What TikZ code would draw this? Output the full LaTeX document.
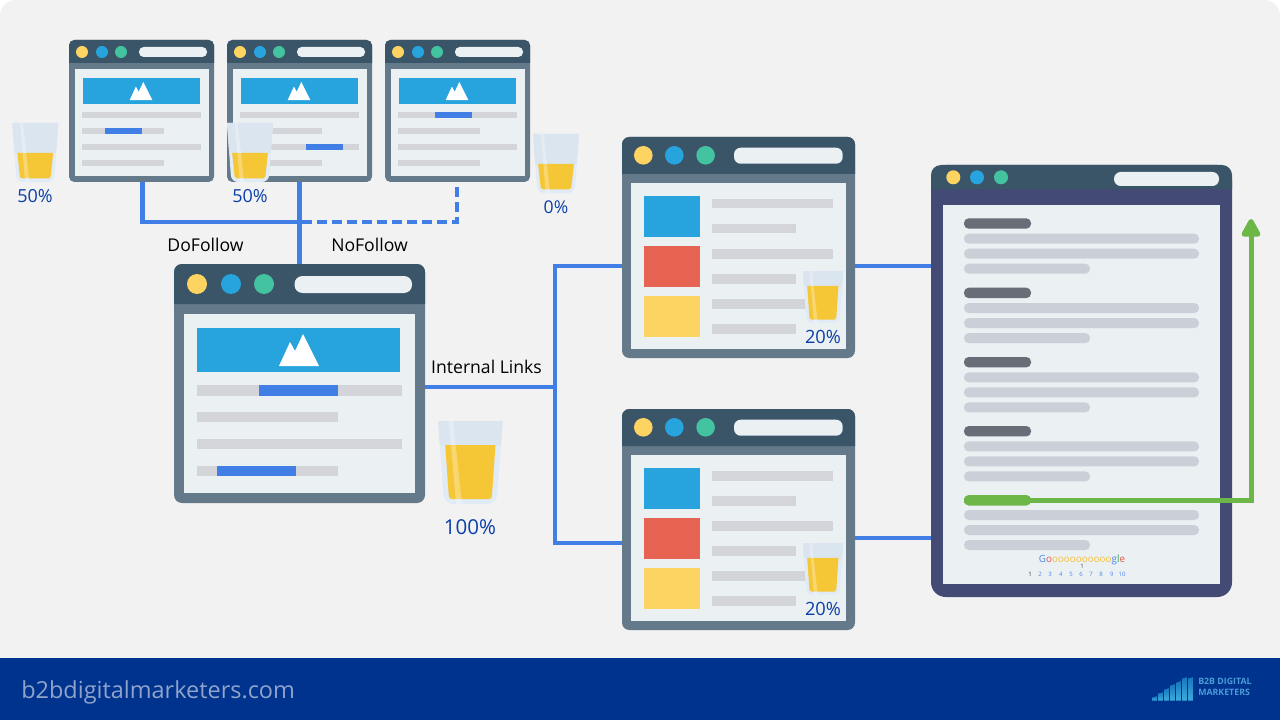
\documentclass[tikz,border=0pt]{standalone}
\usepackage{fontspec}
\setmainfont{Open Sans}
\usetikzlibrary{arrows.meta}

\definecolor{bggray}{HTML}{F2F2F2}
\definecolor{footblue}{HTML}{00338D}
\definecolor{footgray}{HTML}{8FA3CB}
\definecolor{framegray}{HTML}{64798A}
\definecolor{barslate}{HTML}{3B5568}
\definecolor{pagewhite}{HTML}{EBF0F3}
\definecolor{linegray}{HTML}{D4D5DA}
\definecolor{imgblue}{HTML}{27A3DD}
\definecolor{dotyellow}{HTML}{FDD361}
\definecolor{dotgreen}{HTML}{43C3A0}
\definecolor{tomato}{HTML}{E86452}
\definecolor{linkblue}{HTML}{417EE6}
\definecolor{pctblue}{HTML}{0B3FA8}
\definecolor{docnavy}{HTML}{434B75}
\definecolor{doclines}{HTML}{CBCFD8}
\definecolor{dochead}{HTML}{686D78}
\definecolor{rankgreen}{HTML}{6DB748}
\definecolor{glassblue}{HTML}{DBE5EF}
\definecolor{glassrim}{HTML}{E0EBF5}
\definecolor{juice}{HTML}{F5C635}
\definecolor{gblue}{HTML}{4D86EE}
\definecolor{gred}{HTML}{E2574C}
\definecolor{gyellow}{HTML}{F7BF3B}
\definecolor{ggreen}{HTML}{3FA45B}
\definecolor{logotext}{HTML}{4A9CD8}

\def\pxu{0.75pt}

\tikzset{
	winframe/.style={rectangle,fill=framegray,inner sep=0pt,outer sep=0pt},
	linkline/.style={linkblue,line width=3.6pt},
	pctlabel/.style={text=pctblue,inner sep=0pt},
	linklabel/.style={text=black,inner sep=0pt,font=\fontsize{13.2}{15}\selectfont},
}

\newcommand{\mountain}[2]{%
	\fill[white,shift={(#1,#2)},scale=0.57] (-20,32) -- (-9,8) -- (-4,17) -- (4,0) -- (20,32) -- cycle;
}

\newcommand{\smallpage}[4]{%
	\begin{scope}[shift={(#2,40)}]
		\node[winframe,rounded corners=4pt,minimum width=145*\pxu,minimum height=142*\pxu] (#1) at (72.5,71) {};
		\fill[barslate,rounded corners=4pt] (0,23) -- (0,0) -- (145,0) [sharp corners] -- (145,23) -- cycle;
		\fill[pagewhite] (6,29) rectangle (140,136);
		\fill[dotyellow] (13,12) circle (6);
		\fill[imgblue] (33,12) circle (6);
		\fill[dotgreen] (52,12) circle (6);
		\fill[pagewhite,rounded corners=3.5pt] (70,7) rectangle (138,17);
		\fill[imgblue] (13.5,38) rectangle (131,64);
		\mountain{72}{42}
		\fill[linegray] (13,72) rectangle (132,78);
		\fill[linegray] (13,88) rectangle (95,94);
		\fill[linegray] (13,104) rectangle (132,110);
		\fill[linegray] (13,120) rectangle (95,126);
		\fill[linkblue] (#3,#4) rectangle ++(37,6);
	\end{scope}
}

\newcommand{\midpage}[2]{%
	\begin{scope}[shift={(622,#2)}]
		\node[winframe,rounded corners=5.5pt,minimum width=233*\pxu,minimum height=221*\pxu] (#1) at (116.5,110.5) {};
		\fill[barslate,rounded corners=5.5pt] (0,37) -- (0,0) -- (233,0) [sharp corners] -- (233,37) -- cycle;
		\fill[pagewhite] (9,46) rectangle (224,212);
		\fill[dotyellow] (21.3,18.3) circle (9.3);
		\fill[imgblue] (52.3,18.3) circle (9.3);
		\fill[dotgreen] (83.6,18.3) circle (9.3);
		\fill[pagewhite,rounded corners=5pt] (112,10.7) rectangle (220.7,26.7);
		\fill[imgblue] (21.7,59) rectangle (78,99.7);
		\fill[tomato] (21.7,109) rectangle (78,149.7);
		\fill[dotyellow] (21.7,159) rectangle (78,200);
		\foreach \ly in {62,112,162}
			\fill[linegray] (90.3,\ly) rectangle (211.3,\ly+9.5);
		\foreach \ly in {87,137,187}
			\fill[linegray] (90.3,\ly) rectangle (173.7,\ly+9.5);
	\end{scope}
}

\newcommand{\docblock}[1]{%
	\fill[dochead,rounded corners=3.5pt] (964,#1) rectangle (1031,#1+10.4);
	\fill[doclines,rounded corners=3.5pt] (964,#1+15.4) rectangle (1199,#1+25.4);
	\fill[doclines,rounded corners=3.5pt] (964,#1+30.4) rectangle (1199,#1+40.4);
	\fill[doclines,rounded corners=3.5pt] (964,#1+45.4) rectangle (1090,#1+55.4);
}

\newcommand{\juiceglass}[4]{%
	\begin{scope}[shift={(#1,#2)},scale=#3]
		\pgfmathsetmacro{\glassL}{0.0735*#4}
		\pgfmathsetmacro{\glassR}{64.7-\glassL}
		\pgfmathsetmacro{\juiceR}{64.7-7.2}
		\fill[glassrim] (0,0) -- (64.7,0) [rounded corners={#3*7pt}] -- (58.6,83) -- (6.1,83) [sharp corners] -- cycle;
		\fill[glassblue] (0,0) -- (64.7,0) -- (\glassR,#4) -- (\glassL,#4) -- cycle;
		\fill[juice] (7.2,#4) -- (\juiceR,#4) [rounded corners={#3*2pt}] -- (53.7,78) -- (11,78) [sharp corners] -- cycle;
		\fill[white,opacity=0.3] (11,0) -- (15,0) -- (24,83) -- (18,83) -- cycle;
	\end{scope}
}

\begin{document}
\begin{tikzpicture}[x=\pxu,y=-\pxu]
	\useasboundingbox (0,0) rectangle (1280,720);
	\fill[white] (0,0) rectangle (1280,720);
	\fill[bggray,rounded corners=12pt] (0,658) -- (0,0) -- (1280,0) [sharp corners] -- (1280,658) -- cycle;
	\fill[footblue] (0,658) rectangle (1280,720);

	\smallpage{pageA}{69}{36}{88}
	\smallpage{pageB}{227}{79}{104}
	\smallpage{pageC}{385}{50}{72}

	\begin{scope}[shift={(174,264)}]
		\node[winframe,rounded corners=6pt,minimum width=251*\pxu,minimum height=239*\pxu] (mainPage) at (125.5,119.5) {};
		\fill[barslate,rounded corners=6pt] (0,40) -- (0,0) -- (251,0) [sharp corners] -- (251,40) -- cycle;
		\fill[pagewhite] (10,50) rectangle (241,229);
		\fill[dotyellow] (23,20) circle (10);
		\fill[imgblue] (57,20) circle (10);
		\fill[dotgreen] (90,20) circle (10);
		\fill[pagewhite,rounded corners=6pt] (120.5,12) rectangle (238,29);
		\fill[imgblue] (23,64) rectangle (226,108);
		\fill[white] (105,102) -- (116,78) -- (121,87) -- (129,70) -- (145,102) -- cycle;
		\fill[linegray] (23,121) rectangle (228,131.5);
		\fill[linegray] (23,148) rectangle (164,158);
		\fill[linegray] (23,175) rectangle (228,185);
		\fill[linegray] (23,202) rectangle (164,212);
		\fill[linkblue] (85,121) rectangle (164,131.5);
		\fill[linkblue] (43,202) rectangle (122,212);
	\end{scope}

	\midpage{pageD}{137}
	\midpage{pageE}{409}

	\node[winframe,fill=docnavy,rounded corners=11pt,minimum width=301*\pxu,minimum height=432*\pxu] (docPage) at (1081.5,381) {};
	\fill[barslate,rounded corners=7.5pt] (931,189.3) -- (931,165) -- (1232,165) [sharp corners] -- (1232,189.3) -- cycle;
	\fill[docnavy] (931,189.3) rectangle (1232,205);
	\fill[pagewhite] (943,205) rectangle (1220,584);
	\fill[dotyellow] (953.3,177.3) circle (7);
	\fill[imgblue] (977,177.3) circle (7);
	\fill[dotgreen] (1001,177.3) circle (7);
	\fill[pagewhite,rounded corners=5pt] (1114,172) rectangle (1219,186);
	\docblock{218.3}
	\docblock{287.7}
	\docblock{357}
	\docblock{426}
	\fill[doclines,rounded corners=3.5pt] (964,510) rectangle (1199,520);
	\fill[doclines,rounded corners=3.5pt] (964,525) rectangle (1199,535);
	\fill[doclines,rounded corners=3.5pt] (964,540) rectangle (1090,550);

	\node[inner sep=0pt,font=\fontsize{7.4}{9}\selectfont] (googleWord) at (1082,559.5) {\textcolor{gblue}{G}\textcolor{gred}{o}\textcolor{gyellow}{oooooooooo}\textcolor{gblue}{g}\textcolor{ggreen}{l}\textcolor{gred}{e}};
	\node[inner sep=0pt,text=black!70,font=\fontsize{4.5}{5}\selectfont] (googleOne) at (1082,566) {1};
	\foreach \n/\nx in {1/1030,2/1040,3/1050,4/1060.7,5/1071,6/1081,7/1091,8/1101,9/1111.7,10/1122} {
		\ifnum\n=1
			\node[inner sep=0pt,text=black!80,font=\fontsize{4.5}{5}\selectfont] (rank\n) at (\nx,574) {\n};
		\else
			\node[inner sep=0pt,text=gblue,font=\fontsize{4.5}{5}\selectfont] (rank\n) at (\nx,574) {\n};
		\fi
	}

	\coordinate (linkJoin) at (555,387);
	\coordinate (followJoin) at (299,222);
	\coordinate (nofollowStart) at (457,187);
	\coordinate (rankStart) at (964,500);
	\coordinate (rankTip) at (1251,219);

	\draw[linkline] (pageA.south) ++(1,0) |- (followJoin);
	\draw[linkline] (pageB.south) -- (mainPage.north);
	\draw[linkline,dash pattern=on 7.5pt off 3.75pt] (nofollowStart) |- (followJoin);
	\draw[linkline] (mainPage.east |- linkJoin) -- (linkJoin);
	\draw[linkline] (pageD.west) ++(0,18.5) -| (linkJoin);
	\draw[linkline] (pageE.west) ++(0,23.5) -| (linkJoin);
	\draw[linkline] (pageD.east) ++(0,18.5) -- (docPage.west |- 0,266);
	\draw[linkline] (pageE.east) ++(0,18.5) -- (docPage.west |- 0,538);

	\fill[rankgreen,rounded corners=3.5pt] (964,495) rectangle (1031,505.5);
	\draw[rankgreen,line width=3.75pt,-{Triangle[length=15.5pt,width=15.5pt,round]}] (rankStart) -| (rankTip);

	\juiceglass{12.3}{123}{0.711}{42}
	\juiceglass{227}{123}{0.711}{42}
	\juiceglass{533}{134}{0.711}{42}
	\juiceglass{438}{421}{1}{24}
	\juiceglass{802.7}{271}{0.623}{24}
	\juiceglass{802.7}{543}{0.623}{24}

	\node[pctlabel,font=\fontsize{13.5}{15}\selectfont] (pctA) at (35,196) {50\%};
	\node[pctlabel,font=\fontsize{13.5}{15}\selectfont] (pctB) at (250,196) {50\%};
	\node[pctlabel,font=\fontsize{13.2}{15}\selectfont] (pctC) at (556,207) {0\%};
	\node[pctlabel,font=\fontsize{13.7}{15}\selectfont] (pctD) at (823,337) {20\%};
	\node[pctlabel,font=\fontsize{13.7}{15}\selectfont] (pctE) at (823,609) {20\%};
	\node[pctlabel,font=\fontsize{15.4}{17}\selectfont] (pctMain) at (470,527) {100\%};

	\node[linklabel] (doFollow) at (205.5,245) {DoFollow};
	\node[linklabel] (noFollow) at (369.5,245) {NoFollow};
	\node[linklabel] (internalLinks) at (486.5,367) {Internal Links};

	\node[inner sep=0pt,text=footgray,anchor=west,font=\fontsize{17.6}{20}\selectfont] (siteName) at (21,692) {b2bdigitalmarketers.com};

	\foreach \bx/\bh in {1152/3,1158/7,1164/11,1170/15,1176/18,1182/22,1188/22}
		\shade[bottom color=imgblue!90!white,top color=imgblue!60!footblue] (\bx,700.7) -- (\bx,700.7-\bh) -- (\bx+4.8,700.7-\bh-1.5) -- (\bx+4.8,700.7) -- cycle;
	\node[inner sep=0pt,anchor=north west,align=left,text=logotext,font=\fontsize{6.6}{8.2}\selectfont\bfseries] (logoText) at (1198,677.5) {B2B DIGITAL\\MARKETERS};
\end{tikzpicture}
\end{document}
